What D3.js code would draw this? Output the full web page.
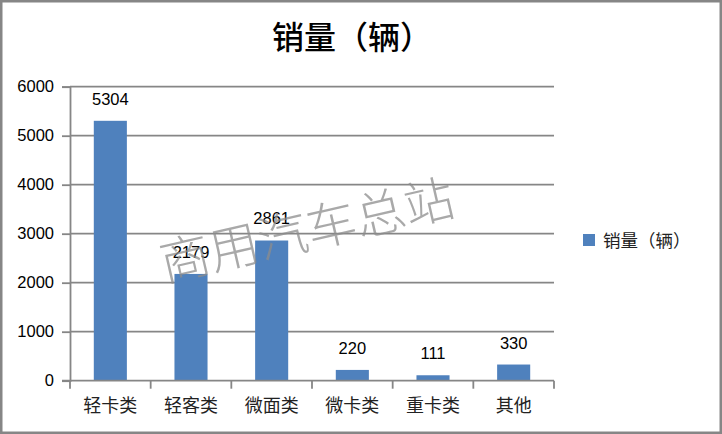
<!DOCTYPE html>
<html>
<head>
<meta charset="utf-8">
<script src="https://cdn.jsdelivr.net/npm/d3@7"></script>
<style>
  html, body { margin: 0; padding: 0; background: #fff; }
  svg { display: block; }
</style>
</head>
<body>
<div id="chart"></div>
<script>
// chart data
const categories = ['轻卡类', '轻客类', '微面类', '微卡类', '重卡类', '其他']
const sales = [5304, 2179, 2861, 220, 111, 330]
const yTicks = [0, 1000, 2000, 3000, 4000, 5000, 6000]
const seriesName = '销量（辆）'
const chartTitle = '销量（辆）'
const watermark = '商用汽车总站'

const fullWidth = 722
const fullHeight = 434
const margin = {top: 86.7, right: 168, bottom: 53.3, left: 70}
const width = fullWidth - margin.left - margin.right
const height = fullHeight - margin.top - margin.bottom

const numFont = '"Liberation Sans", Arial, sans-serif'
const cjkFont = '"Noto Sans CJK SC", sans-serif'
const gray = '#868686'
const barColor = '#4f81bd'

const root = d3.select('#chart').append('svg')
  .attr('width', fullWidth)
  .attr('height', fullHeight)

// outer frame
root.append('rect')
  .attr('x', 1.25).attr('y', 1.25)
  .attr('width', fullWidth - 2.5).attr('height', fullHeight - 2.5)
  .attr('fill', '#fff')
  .attr('stroke', gray)
  .attr('stroke-width', 2.5)

// title
root.append('text')
  .attr('x', 352)
  .attr('y', 49)
  .attr('text-anchor', 'middle')
  .style('font-family', cjkFont)
  .style('font-weight', 500)
  .style('font-size', '32px')
  .style('fill', '#000')
  .text(chartTitle)

const svg = root.append('g')
  .attr('transform', 'translate(' + margin.left + ',' + margin.top + ')')

const xScale = d3.scaleBand()
  .domain(categories)
  .range([0, width])
  .paddingInner(0.59)
  .paddingOuter(0.295)

const yScale = d3.scaleLinear()
  .domain([0, 6000])
  .range([height, 0])

// gridlines
svg.append('g')
  .selectAll('line')
  .data(yTicks.filter(d => d > 0))
  .enter().append('line')
  .attr('x1', 0).attr('x2', width)
  .attr('y1', d => yScale(d)).attr('y2', d => yScale(d))
  .attr('stroke', gray)
  .attr('stroke-width', 1.8)

// y axis
const yAxis = d3.axisLeft(yScale).tickValues(yTicks).tickFormat(d3.format('d')).tickSize(8).tickPadding(8)
const yAxisEle = svg.append('g').call(yAxis)
yAxisEle.select('.domain').attr('stroke', gray).attr('stroke-width', 1.8)
yAxisEle.selectAll('.tick line').attr('stroke', gray).attr('stroke-width', 1.8)
yAxisEle.selectAll('.tick text')
  .style('font-family', numFont)
  .style('font-size', '16.5px')
  .style('fill', '#000')
  .attr('x', -16)

// bars
svg.append('g')
  .selectAll('rect')
  .data(categories)
  .enter().append('rect')
  .attr('x', d => xScale(d))
  .attr('width', xScale.bandwidth())
  .attr('y', (d, i) => yScale(sales[i]))
  .attr('height', (d, i) => height - yScale(sales[i]))
  .attr('fill', barColor)

// x axis
const xAxis = d3.axisBottom(xScale).tickSize(0).tickPadding(0)
const xAxisEle = svg.append('g')
  .attr('transform', 'translate(0,' + height + ')')
  .call(xAxis)
xAxisEle.select('.domain').remove()
xAxisEle.append('line')
  .attr('x1', -8).attr('x2', width)
  .attr('stroke', gray).attr('stroke-width', 1.8)
xAxisEle.selectAll('.tick text')
  .attr('y', 31).attr('dy', 0)
  .style('font-family', cjkFont)
  .style('font-size', '18px')
  .style('fill', '#222')
// boundary ticks between categories
const step = xScale.step()
const bounds = d3.range(categories.length + 1).map(i => xScale(categories[0]) - (step - xScale.bandwidth()) / 2 + i * step)
xAxisEle.selectAll('line.bound')
  .data(bounds)
  .enter().append('line')
  .attr('class', 'bound')
  .attr('x1', d => d).attr('x2', d => d)
  .attr('y1', 0).attr('y2', 8)
  .attr('stroke', gray).attr('stroke-width', 1.8)

// data labels
svg.append('g')
  .selectAll('text')
  .data(categories)
  .enter().append('text')
  .attr('x', d => xScale(d) + xScale.bandwidth() / 2)
  .attr('y', (d, i) => yScale(sales[i]) - 16)
  .attr('text-anchor', 'middle')
  .style('font-family', numFont)
  .style('font-size', '16.5px')
  .style('fill', '#000')
  .text((d, i) => sales[i])

// watermark
root.append('text')
  .attr('transform', 'translate(311,248) rotate(-13)')
  .attr('text-anchor', 'middle')
  .style('font-family', cjkFont)
  .style('font-weight', 300)
  .style('font-size', '50px')
  .style('fill', '#8c8c8c')
  .style('fill-opacity', 0.75)
  .text(watermark)

// legend
const legend = root.append('g').attr('transform', 'translate(583,234)')
legend.append('rect')
  .attr('width', 12).attr('height', 12)
  .attr('fill', barColor)
legend.append('text')
  .attr('x', 20).attr('y', 13)
  .style('font-family', cjkFont)
  .style('font-size', '17.5px')
  .style('fill', '#222')
  .text(seriesName)
</script>
</body>
</html>
